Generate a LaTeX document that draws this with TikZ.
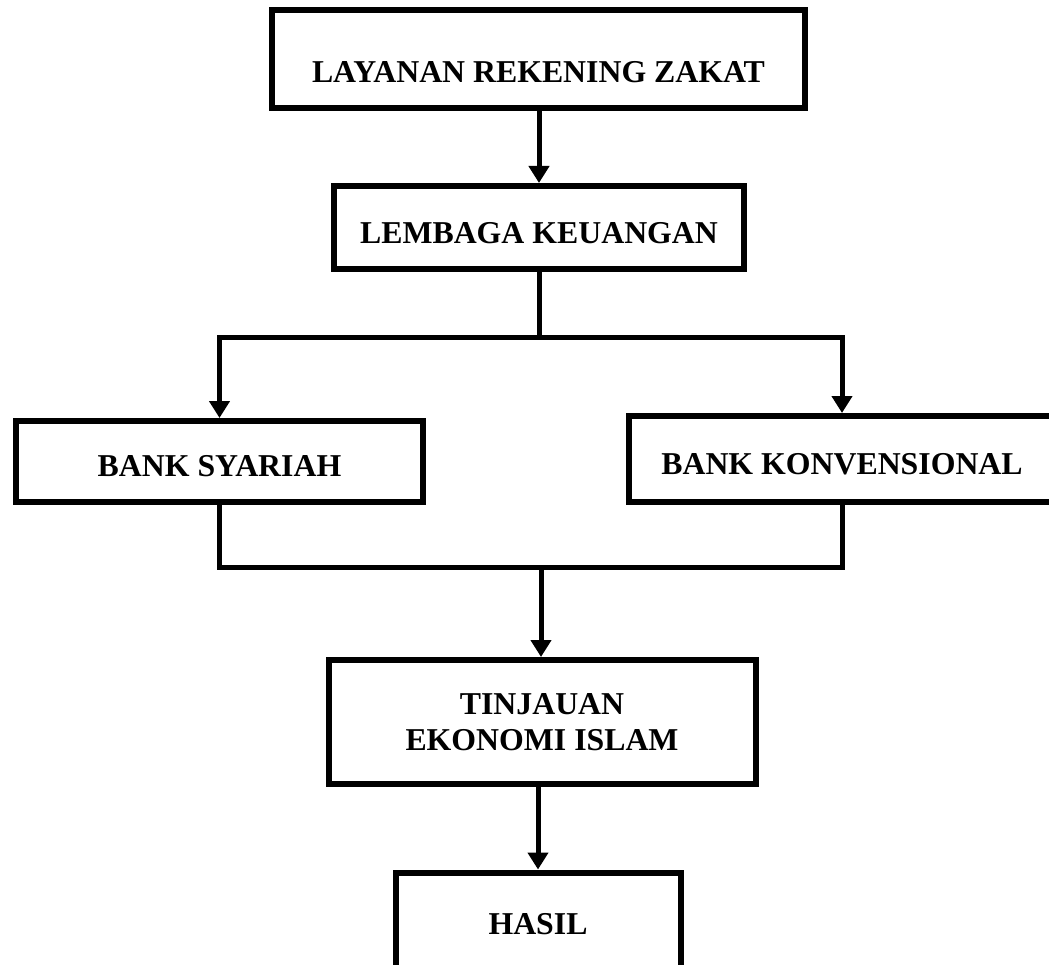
\documentclass[tikz,border=0pt]{standalone}
\usepackage{fontspec}
\setmainfont{Liberation Serif}
\usepackage{tikz}
\usetikzlibrary{positioning,arrows.meta,calc}

\begin{document}
\begin{tikzpicture}[x=1pt,y=-1pt,
  box/.style={draw,line width=6pt,rectangle,inner sep=0pt,align=center,
    font=\bfseries\fontsize{31.8}{36}\selectfont},
  lowtext/.style={text height=#1,text depth=0pt},
  link/.style={line width=5pt},
  flow/.style={link,-{Triangle[length=17pt,width=20pt]}}]
\path[use as bounding box,clip] (0,0) rectangle (1049,965);
% Boxes
\node[box,lowtext=47pt,minimum width=533,minimum height=98] (zakat) at (538.5,59) {LAYANAN REKENING ZAKAT};
\node[box,lowtext=33pt,minimum width=410,minimum height=83] (lembaga) at (539,227.5) {LEMBAGA KEUANGAN};
\node[box,lowtext=30pt,minimum width=407,minimum height=81] (syariah) at (219.5,461.5) {BANK SYARIAH};
\node[box,lowtext=31pt,minimum width=426,minimum height=86] (konven) at (842,459) {BANK KONVENSIONAL};
\node[box,minimum width=427,minimum height=124] (tinjauan) at (542,722) {TINJAUAN\\EKONOMI ISLAM};
\node[box,minimum width=285,minimum height=103] (hasil) at (538,924) {HASIL};
\coordinate (split) at (539,338);
\coordinate (merge) at (541,567);
% Connectors
\draw[flow] (zakat.south -| lembaga.north) -- (lembaga.north);
\draw[link] (lembaga.south) -- (split);
\draw[flow] (split) -| (syariah);
\draw[flow] (split) -| (konven);
\draw[link] (syariah) |- (merge) -| (konven);
\draw[flow] (merge) -- (merge |- tinjauan.north);
\draw[flow] (hasil.north |- tinjauan.south) -- (hasil.north);
\end{tikzpicture}
\end{document}
